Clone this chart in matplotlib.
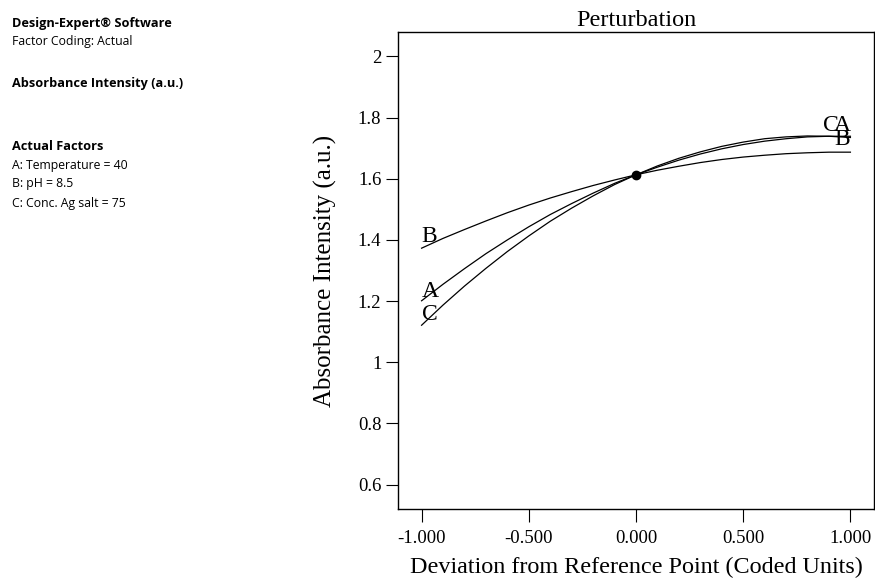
import matplotlib
matplotlib.use("Agg")
import matplotlib.pyplot as plt

# Data (coded deviation vs response)
x_dev = [-1.0, -0.9, -0.8, -0.7, -0.6, -0.5, -0.4, -0.3, -0.2, -0.1, 0.0,
         0.1, 0.2, 0.3, 0.4, 0.5, 0.6, 0.7, 0.8, 0.9, 1.0]
y_A = [1.201, 1.255, 1.306, 1.355, 1.400, 1.443, 1.483, 1.519, 1.553, 1.585, 1.613,
       1.638, 1.661, 1.681, 1.698, 1.712, 1.723, 1.731, 1.737, 1.739, 1.739]
y_B = [1.373, 1.405, 1.434, 1.462, 1.489, 1.514, 1.537, 1.558, 1.578, 1.596, 1.613,
       1.628, 1.641, 1.653, 1.663, 1.671, 1.677, 1.682, 1.685, 1.687, 1.687]
y_C = [1.121, 1.187, 1.249, 1.307, 1.362, 1.413, 1.461, 1.504, 1.544, 1.581, 1.613,
       1.642, 1.667, 1.688, 1.706, 1.720, 1.731, 1.737, 1.740, 1.739, 1.735]
ref_point = (0.0, 1.613)

x_ticks = [-1.0, -0.5, 0.0, 0.5, 1.0]
x_ticklabels = ["-1.000", "-0.500", "0.000", "0.500", "1.000"]
y_ticks = [0.6, 0.8, 1.0, 1.2, 1.4, 1.6, 1.8, 2.0]
y_ticklabels = ["0.6", "0.8", "1", "1.2", "1.4", "1.6", "1.8", "2"]

info_lines = [
    ("Design-Expert® Software", True, 24),
    ("Factor Coding: Actual", False, 41),
    ("Absorbance Intensity (a.u.)", True, 84),
    ("Actual Factors", True, 146),
    ("A: Temperature = 40", False, 165),
    ("B: pH = 8.5", False, 184),
    ("C: Conc. Ag salt = 75", False, 203),
]

W, H = 875, 584
fig = plt.figure(figsize=(W / 100, H / 100), dpi=100)
ax = fig.add_axes([398 / W, 1 - 509 / H, (874 - 398) / W, (509 - 32) / H])

serif = ["Liberation Serif", "DejaVu Serif"]
for ys in (y_A, y_B, y_C):
    ax.plot(x_dev, ys, color="black", lw=0.9)
ax.plot([ref_point[0]], [ref_point[1]], "o", color="black", ms=6)

ax.set_xlim(-1.11, 1.11)
ax.set_ylim(0.52, 2.08)
ax.set_xticks(x_ticks)
ax.set_xticklabels(x_ticklabels, family=serif, fontsize=13.5)
ax.set_yticks(y_ticks)
ax.set_yticklabels(y_ticklabels, family=serif, fontsize=13.5)
ax.tick_params(direction="out", length=9, width=0.8, color="black")
ax.tick_params(axis="x", pad=6)
ax.tick_params(axis="y", pad=3)
for s in ax.spines.values():
    s.set_linewidth(1.0)

ax.set_title("Perturbation", family=serif, fontsize=17.5, pad=4)
ax.set_xlabel("Deviation from Reference Point (Coded Units)", family=serif, fontsize=17.4, labelpad=7)
ax.set_ylabel("Absorbance Intensity (a.u.)", family=serif, fontsize=18, labelpad=15)

lab_kw = dict(family=serif, fontsize=17, textcoords="offset pixels", va="baseline")
ax.annotate("B", (x_dev[0], y_B[0]), xytext=(0, 6), ha="left", **lab_kw)
ax.annotate("A", (x_dev[0], y_A[0]), xytext=(0, 4), ha="left", **lab_kw)
ax.annotate("C", (x_dev[0], y_C[0]), xytext=(0, 5), ha="left", **lab_kw)
ax.annotate("A", (x_dev[-1], y_A[-1]), xytext=(0, 5), ha="right", **lab_kw)
ax.annotate("C", (x_dev[-1], y_C[-1]), xytext=(-12, 6), ha="right", **lab_kw)
ax.annotate("B", (x_dev[-1], y_B[-1]), xytext=(0, 7), ha="right", **lab_kw)

sans = ["Open Sans", "DejaVu Sans"]
for txt, bold, ypix in info_lines:
    fig.text(12 / W, 1 - ypix / H, txt, family=sans, fontsize=9.2 if bold else 8.8,
             fontweight="bold" if bold else "normal", va="center", ha="left")

fig.savefig("out.png", dpi=100)
